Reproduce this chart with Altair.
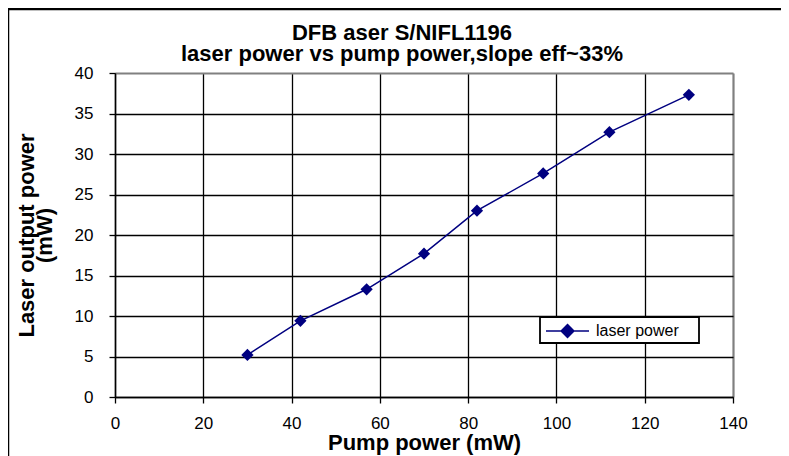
import altair as alt
import pandas as pd

# ---- data ----
pump_mw = [30, 42, 57, 70, 82, 97, 112, 130]
laser_mw = [5.2, 9.4, 13.3, 17.7, 23.0, 27.6, 32.7, 37.3]
series_name = "laser power"
title_lines = ["DFB aser S/NIFL1196", "laser power vs pump power,slope eff~33%"]
x_title = "Pump power (mW)"
y_title = ["Laser output power", "(mW)"]
x_ticks = [0, 20, 40, 60, 80, 100, 120, 140]
y_ticks = [0, 5, 10, 15, 20, 25, 30, 35, 40]

df = pd.DataFrame({"pump": pump_mw, "laser": laser_mw,
                   "series": [series_name] * len(pump_mw)})

FONT = "Liberation Sans"
NAVY = "#000080"
GRAY = "#808080"

x_enc = alt.X(
    "pump:Q",
    scale=alt.Scale(domain=[x_ticks[0], x_ticks[-1]], nice=False, zero=False),
    axis=alt.Axis(
        values=x_ticks, title=x_title,
        labelFont=FONT, labelFontSize=17, labelColor="black",
        labelPadding=12, labelFlush=False, labelOverlap=False,
        tickColor="black", tickSize=6, tickWidth=1.3,
        domainColor="black", domainWidth=1.5,
        gridColor=alt.condition("datum.value == 140", alt.value(GRAY), alt.value("black")),
        gridWidth=alt.condition("datum.value == 140", alt.value(2.2), alt.value(1.3)),
        titleFont=FONT, titleFontSize=22, titleFontWeight="bold", titleColor="black",
        titleBaseline="alphabetic", titleY=52,
    ),
)
y_enc = alt.Y(
    "laser:Q",
    scale=alt.Scale(domain=[y_ticks[0], y_ticks[-1]], nice=False, zero=False),
    axis=alt.Axis(
        values=y_ticks, title=y_title,
        labelFont=FONT, labelFontSize=17, labelColor="black",
        labelPadding=16, labelFlush=False, labelOverlap=False,
        tickColor="black", tickSize=6, tickWidth=1.3,
        domainColor="black", domainWidth=1.5,
        gridColor=alt.condition("datum.value == 40", alt.value(GRAY), alt.value("black")),
        gridWidth=alt.condition("datum.value == 40", alt.value(2.2), alt.value(1.3)),
        titleFont=FONT, titleFontSize=22, titleFontWeight="bold", titleColor="black",
        titleAngle=270, titleBaseline="top", titleAlign="center",
        titleX=-99, titleY=162, titleLineHeight=18,
    ),
)
color_enc = alt.Color(
    "series:N",
    scale=alt.Scale(range=[NAVY]),
    legend=alt.Legend(
        title=None, orient="none", legendX=425, legendY=244,
        symbolType="M-1,0H4.375M1.69,-0.8L2.49,0L1.69,0.8L0.89,0Z",
        symbolSize=256, symbolStrokeWidth=1.5,
        symbolFillColor=NAVY, symbolStrokeColor=NAVY,
        labelFont=FONT, labelFontSize=16, labelColor="black", labelOffset=33,
        padding=5,
    ),
)

series = alt.Chart(df).mark_line(
    color=NAVY, strokeWidth=1.5,
    point=alt.OverlayMarkDef(shape="diamond", size=150, filled=True, color=NAVY, opacity=1),
).encode(x=x_enc, y=y_enc, color=color_enc)

# decorative boxes (outer chart frame and legend frame)
deco = pd.DataFrame({"k": [0]})
frame = alt.Chart(deco).mark_rect(
    fillOpacity=0, stroke="black", strokeWidth=2.5, clip=False
).encode(
    x=alt.value(-107), x2=alt.value(720),
    y=alt.value(-64), y2=alt.value(430),
)
legend_box = alt.Chart(deco).mark_rect(
    fill="white", stroke="black", strokeWidth=1.8, clip=False
).encode(
    x=alt.value(425), x2=alt.value(584),
    y=alt.value(244), y2=alt.value(270),
)

chart = alt.layer(series, legend_box, frame).properties(
    width=618, height=324,
    title=alt.TitleParams(
        text=title_lines, font=FONT, fontSize=22, fontWeight="bold", color="black",
        anchor="middle", lineHeight=21, baseline="bottom", offset=9, dx=-22, dy=89,
    ),
    autosize=alt.AutoSizeParams(type="none"),
    padding={"left": 107, "top": 65, "right": 48, "bottom": 59},
).configure_view(strokeWidth=0).configure(background="white")

chart.save("out.html", embed_options={"renderer": "svg", "actions": False})
